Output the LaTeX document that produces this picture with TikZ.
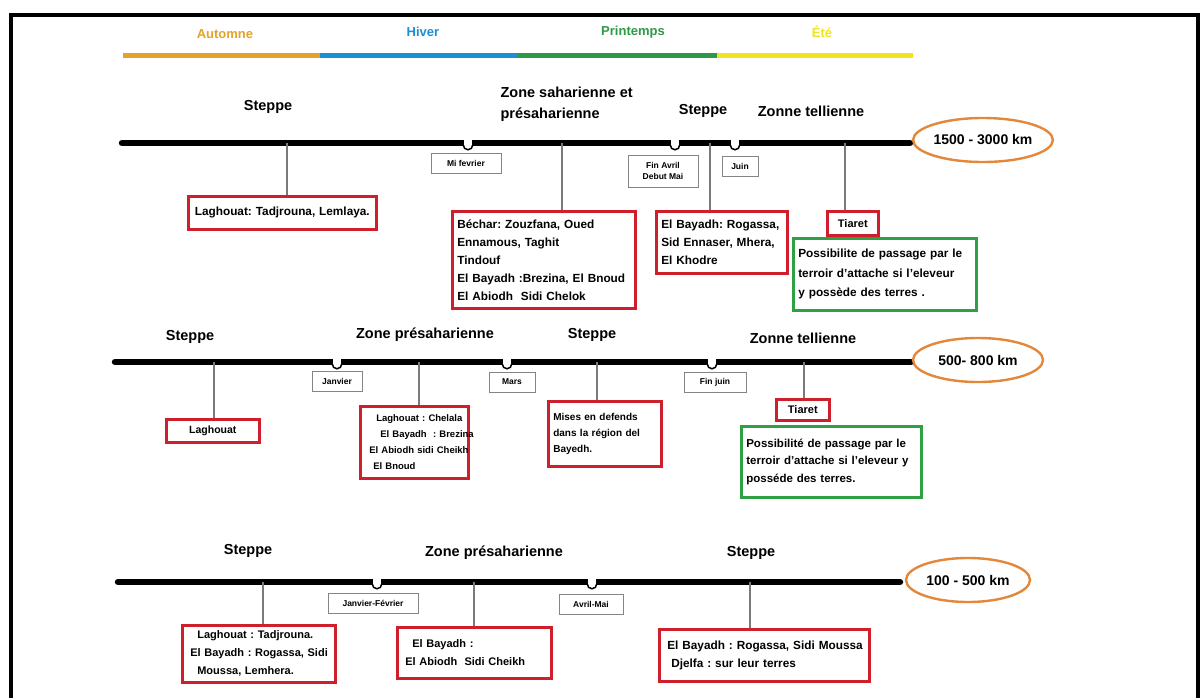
\documentclass[tikz,border=0pt]{standalone}
\usepackage{fontspec}
\setmainfont{Liberation Sans}
\usetikzlibrary{shapes.geometric}
\definecolor{cAut}{HTML}{E3A22A}
\definecolor{cHiv}{HTML}{1C8FD2}
\definecolor{cPri}{HTML}{2E9A48}
\definecolor{cEte}{HTML}{F0E41E}
\definecolor{cRed}{HTML}{D01F2C}
\definecolor{cGreen}{HTML}{2FA043}
\definecolor{cOrange}{HTML}{E3873A}
\definecolor{stemgray}{HTML}{7A7A7A}
\definecolor{dgray}{HTML}{858585}
\begin{document}
\frenchspacing
\begin{tikzpicture}[x=1pt,y=-1pt,
  tline/.style={line width=6.5pt,line cap=round},
  stem/.style={draw=stemgray,line width=1.2pt},
  rbox/.style={draw=cRed,line width=2.6pt,fill=white,inner xsep=5pt,inner ysep=4pt,anchor=north west,
    font=\bfseries\fontsize{11.8}{18}\selectfont,align=left},
  gbox/.style={rbox,draw=cGreen},
  dbox/.style={draw=dgray,line width=0.9pt,fill=white,inner sep=2pt,
    font=\bfseries\fontsize{8.5}{11}\selectfont,align=center},
  hdr/.style={font=\bfseries\fontsize{14.5}{21}\selectfont},
  dist/.style={ellipse,draw=cOrange,line width=2.4pt,inner sep=0pt,
    font=\bfseries\fontsize{14}{16}\selectfont},
  season/.style={font=\bfseries\fontsize{13}{15}\selectfont},
  sbar/.style={line width=5pt},
  notch/.pic={
    \fill[white] (-4,-4) rectangle (4,2);
    \fill[white] (0,2) circle (4);
    \begin{scope}
      \clip (-7,2) rectangle (7,12);
      \draw[line width=1.5pt] (0,2) circle (4.75);
    \end{scope}}
]
\useasboundingbox (0,0) rectangle (1203,697);
\fill[white] (0,0) rectangle (1203,697);
% frame
\coordinate (fA) at (10.5,700);
\coordinate (fB) at (10.5,14.5);
\coordinate (fC) at (1197.5,14.5);
\coordinate (fD) at (1197.5,700);
\draw[line width=4pt] (fA) -- (fB) -- (fC) -- (fD);

% seasons
\coordinate (sb0) at (123,55);
\coordinate (sb1) at (320,55);
\coordinate (sb2) at (518,55);
\coordinate (sb3) at (717,55);
\coordinate (sb4) at (913,55);
\draw[sbar,cAut] (sb0) -- (sb1);
\draw[sbar,cHiv] (sb1) -- (sb2);
\draw[sbar,cPri] (sb2) -- (sb3);
\draw[sbar,cEte] (sb3) -- (sb4);
\node[season,text=cAut] (tAut) at (225,34) {Automne};
\node[season,text=cHiv] (tHiv) at (423,32) {Hiver};
\node[season,text=cPri] (tPri) at (633,32) {Printemps};
\node[season,text=cEte] (tEte) at (822,32) {Été};

% ===== timeline 1 =====
\coordinate (L1a) at (122,143);
\coordinate (L1b) at (910,143);
\draw[tline] (L1a) -- (L1b);
\pic at (468,143) {notch};
\pic at (675,143) {notch};
\pic at (735,143) {notch};
\node[hdr] (h1a) at (268,107) {Steppe};
\node[hdr,align=left,anchor=west] (h1b) at (497,104) {Zone saharienne et\\présaharienne};
\node[hdr] (h1c) at (703,111) {Steppe};
\node[hdr] (h1d) at (811,111) {Zonne tellienne};
\node[dist,minimum width=130pt,minimum height=44pt] (e1) at (983,140) {1500 - 3000 km};

\node[dbox,minimum width=70pt,minimum height=20pt] (d1a) at (466,163) {Mi fevrier};
\node[dbox,minimum width=70pt,minimum height=32pt] (d1b) at (663,171) {Fin Avril\\Debut Mai};
\node[dbox,minimum width=36pt,minimum height=20pt] (d1c) at (740,166) {Juin};

\node[rbox,text width=178pt,minimum height=33pt,align=center] (b1a) at (187,195) {Laghouat: Tadjrouna, Lemlaya.};
\node[rbox,text width=173pt,minimum height=97pt] (b1b) at (451,210) {Béchar: Zouzfana, Oued\\Ennamous, Taghit\\Tindouf\\\mbox{El Bayadh :Brezina, El Bnoud}\\El Abiodh\ \ Sidi Chelok};
\node[rbox,text width=121pt,minimum height=62pt] (b1c) at (655,210) {\mbox{El Bayadh: Rogassa,}\\\mbox{Sid Ennaser, Mhera,}\\El Khodre};
\node[rbox,text width=41pt,minimum height=24pt,align=center,font=\bfseries\fontsize{11}{18}\selectfont] (b1d) at (826,210) {Tiaret};
\node[gbox,text width=173pt,minimum height=72pt,font=\bfseries\fontsize{11.8}{19.5}\selectfont] (g1) at (792,237) {\mbox{Possibilite de passage par le}\\\mbox{terroir d'attache si l'eleveur}\\y possède des terres .};

\coordinate (s1a) at (287,143);
\coordinate (s1b) at (562,143);
\coordinate (s1c) at (710,143);
\coordinate (s1d) at (845,143);
\draw[stem] (s1a) -- (s1a |- b1a.north);
\draw[stem] (s1b) -- (s1b |- b1b.north);
\draw[stem] (s1c) -- (s1c |- b1c.north);
\draw[stem] (s1d) -- (s1d |- b1d.north);

% ===== timeline 2 =====
\coordinate (L2a) at (115,362);
\coordinate (L2b) at (911,362);
\draw[tline] (L2a) -- (L2b);
\pic at (337,362) {notch};
\pic at (507,362) {notch};
\pic at (712,362) {notch};
\node[hdr] (h2a) at (190,337) {Steppe};
\node[hdr] (h2b) at (425,335) {Zone présaharienne};
\node[hdr] (h2c) at (592,335) {Steppe};
\node[hdr] (h2d) at (803,338) {Zonne tellienne};
\node[dist,minimum width=130pt,minimum height=44pt] (e2) at (978,360) {500- 800 km};

\node[dbox,minimum width=50pt,minimum height=20pt] (d2a) at (337,381) {Janvier};
\node[dbox,minimum width=46pt,minimum height=20pt] (d2b) at (512,382) {Mars};
\node[dbox,minimum width=62pt,minimum height=20pt] (d2c) at (715,382) {Fin juin};

\node[rbox,text width=83pt,minimum height=23pt,align=center,font=\bfseries\fontsize{10.5}{18}\selectfont] (b2a) at (165,418) {Laghouat};
\node[rbox,text width=100pt,minimum height=72pt,inner xsep=4pt,font=\bfseries\fontsize{9.5}{16}\selectfont] (b2b) at (359,405) {\mbox{\hspace*{12pt}Laghouat : Chelala}\\\mbox{\hspace*{16pt}El Bayadh\ \ : Brezina}\\\mbox{\hspace*{5pt}El Abiodh sidi Cheikh}\\\mbox{\hspace*{9pt}El Bnoud}};
\node[rbox,text width=103pt,minimum height=65pt,font=\bfseries\fontsize{10}{16}\selectfont] (b2c) at (547,400) {Mises en defends\\dans la région del\\Bayedh.};
\node[rbox,text width=43pt,minimum height=21pt,align=center,font=\bfseries\fontsize{11}{18}\selectfont] (b2d) at (775,398) {Tiaret};
\node[gbox,text width=170pt,minimum height=71pt,font=\bfseries\fontsize{11.5}{17.5}\selectfont] (g2) at (740,425) {\mbox{Possibilité de passage par le}\\\mbox{terroir d'attache si l'eleveur y}\\posséde des terres.};

\coordinate (s2a) at (214,362);
\coordinate (s2b) at (419,362);
\coordinate (s2c) at (597,362);
\coordinate (s2d) at (804,362);
\draw[stem] (s2a) -- (s2a |- b2a.north);
\draw[stem] (s2b) -- (s2b |- b2b.north);
\draw[stem] (s2c) -- (s2c |- b2c.north);
\draw[stem] (s2d) -- (s2d |- b2d.north);

% ===== timeline 3 =====
\coordinate (L3a) at (118,582);
\coordinate (L3b) at (900,582);
\draw[tline] (L3a) -- (L3b);
\pic at (377,582) {notch};
\pic at (592,582) {notch};
\node[hdr] (h3a) at (248,551) {Steppe};
\node[hdr] (h3b) at (494,553) {Zone présaharienne};
\node[hdr] (h3c) at (751,553) {Steppe};
\node[dist,minimum width=124pt,minimum height=44pt] (e3) at (968,580) {100 - 500 km};

\node[dbox,minimum width=90pt,minimum height=20pt] (d3a) at (373,603) {Janvier-Février};
\node[dbox,minimum width=64pt,minimum height=20pt] (d3b) at (591,604) {Avril-Mai};

\node[rbox,text width=143pt,minimum height=57pt,font=\bfseries\fontsize{11}{18}\selectfont] (b3a) at (181,624) {\mbox{\hspace*{10pt}Laghouat : Tadjrouna.}\\\mbox{\hspace*{3pt}El Bayadh : Rogassa, Sidi}\\\mbox{\hspace*{10pt}Moussa, Lemhera.}};
\node[rbox,text width=144pt,minimum height=51pt,font=\bfseries\fontsize{11}{18}\selectfont] (b3b) at (396,626) {\mbox{\hspace*{10pt}El Bayadh :}\\\mbox{\hspace*{3pt}El Abiodh\ \ Sidi Cheikh}};
\node[rbox,text width=200pt,minimum height=52pt] (b3c) at (658,628) {\mbox{\hspace*{3pt}El Bayadh : Rogassa, Sidi Moussa}\\\mbox{\hspace*{7pt}Djelfa : sur leur terres}};

\coordinate (s3a) at (263,582);
\coordinate (s3b) at (474,582);
\coordinate (s3c) at (750,582);
\draw[stem] (s3a) -- (s3a |- b3a.north);
\draw[stem] (s3b) -- (s3b |- b3b.north);
\draw[stem] (s3c) -- (s3c |- b3c.north);
\end{tikzpicture}
\end{document}
